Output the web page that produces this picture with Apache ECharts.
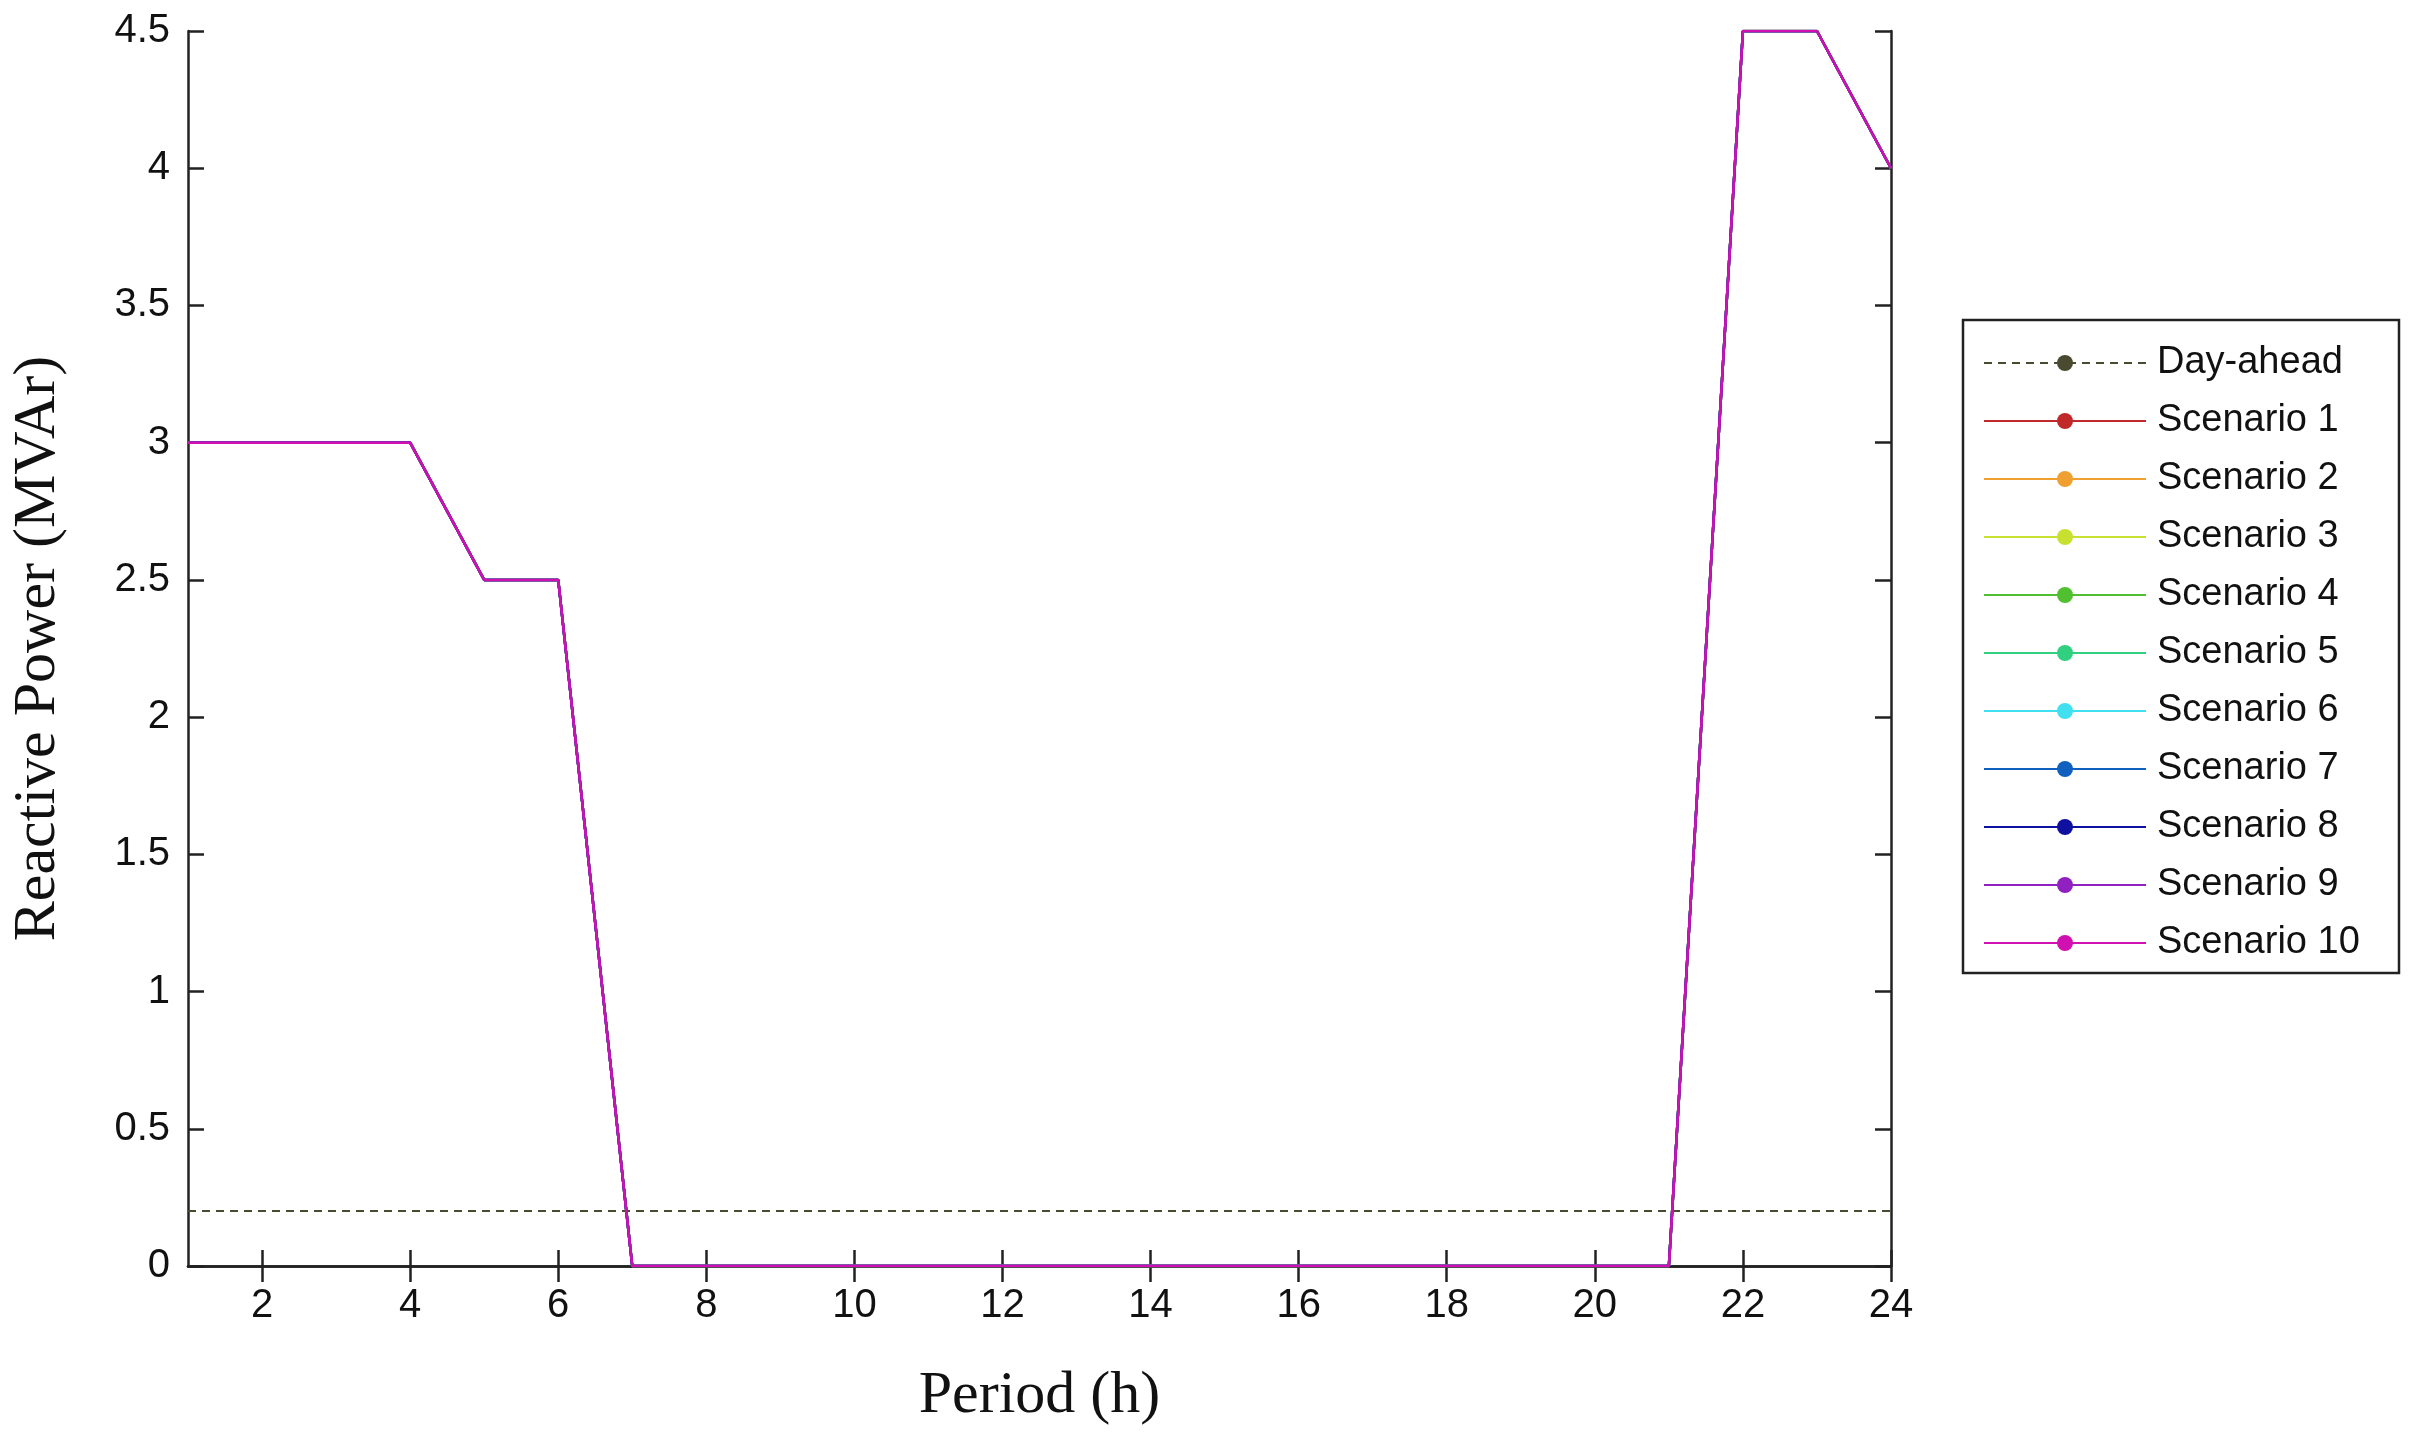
<!DOCTYPE html>
<html>
<head>
<meta charset="utf-8">
<script src="https://cdn.jsdelivr.net/npm/echarts@6/dist/echarts.min.js"></script>
<style>html,body{margin:0;padding:0;background:#fff}#graph{width:2415px;height:1438px}</style>
</head>
<body>
<div id="graph"></div>
<script>
var periods = [];
for (var h = 1; h <= 24; h++) periods.push(h);
var dayAhead = [0.2,0.2,0.2,0.2,0.2,0.2,0.2,0.2,0.2,0.2,0.2,0.2,0.2,0.2,0.2,0.2,0.2,0.2,0.2,0.2,0.2,0.2,0.2,0.2];
var scenarioValues = [3,3,3,3,2.5,2.5,0,0,0,0,0,0,0,0,0,0,0,0,0,0,0,4.5,4.5,4];
var scenarioNames = ['Scenario 1','Scenario 2','Scenario 3','Scenario 4','Scenario 5','Scenario 6','Scenario 7','Scenario 8','Scenario 9','Scenario 10'];
var scenarioColors = ['#c0282a','#f0a030','#c8e030','#50c030','#30d080','#40e0f0','#1060c0','#1010a0','#9020c0','#d010b0'];
var xTicks = [2,4,6,8,10,12,14,16,18,20,22,24];

var chart = echarts.init(document.getElementById('graph'));
var pair = arr => periods.map((p, i) => [p, arr[i]]);

var series = [{
  name: 'Day-ahead', type: 'line', data: pair(dayAhead), symbol: 'none',
  lineStyle: { color: '#4a4a30', width: 2, type: [8, 6] }, itemStyle: { color: '#4a4a30' }
}];
scenarioNames.forEach((n, i) => {
  series.push({
    name: n, type: 'line', data: pair(scenarioValues), symbol: 'none',
    lineStyle: { color: scenarioColors[i], width: 2.5 }, itemStyle: { color: scenarioColors[i] }
  });
});

var tickFont = { fontFamily: 'Liberation Sans', fontSize: 40, color: '#111' };
var axisLine = { lineStyle: { color: '#222', width: 2.5 } };
var tick = { color: '#222', width: 2.5 };

chart.setOption({
  animation: false,
  grid: { left: 174, right: 524, top: 31, bottom: 172, show: false },
  legend: {
    orient: 'vertical', left: 1978, top: 338, itemWidth: 162, itemHeight: 20, itemGap: 18,
    textStyle: { fontFamily: 'Liberation Sans', fontSize: 38, lineHeight: 40, color: '#111', padding: [0, 0, 0, 6] },
    data: ['Day-ahead'].concat(scenarioNames)
  },
  graphic: [{ type: 'rect', shape: { x: 1963, y: 320, width: 436, height: 653 },
    style: { fill: 'none', stroke: '#222', lineWidth: 2.5 } }],
  xAxis: [{
    type: 'value', min: 1, max: 24, name: 'Period (h)', nameLocation: 'middle', nameGap: 100,
    nameTextStyle: { fontFamily: 'Liberation Serif', fontSize: 60, color: '#111' },
    axisLine: axisLine, splitLine: { show: false },
    axisTick: { inside: true, length: 16, lineStyle: tick, customValues: xTicks },
    axisLabel: Object.assign({ margin: 20, customValues: xTicks }, tickFont)
  }, {
    type: 'value', min: 1, max: 24, position: 'top', axisLine: axisLine, splitLine: { show: false },
    axisTick: { inside: true, length: 16, lineStyle: tick, customValues: xTicks },
    axisLabel: { show: false }
  }],
  yAxis: [{
    type: 'value', min: 0, max: 4.5, interval: 0.5, name: 'Reactive Power (MVAr)',
    nameLocation: 'middle', nameGap: 120,
    nameTextStyle: { fontFamily: 'Liberation Serif', fontSize: 60, color: '#111' },
    axisLine: Object.assign({ show: true }, axisLine), splitLine: { show: false },
    axisTick: { show: true, inside: true, length: 16, lineStyle: tick },
    axisLabel: Object.assign({ margin: 18 }, tickFont)
  }, {
    type: 'value', min: 0, max: 4.5, interval: 0.5, position: 'right',
    axisLine: Object.assign({ show: true }, axisLine), splitLine: { show: false },
    axisTick: { show: true, inside: true, length: 16, lineStyle: tick },
    axisLabel: { show: false }
  }],
  series: series
});
</script>
</body>
</html>
